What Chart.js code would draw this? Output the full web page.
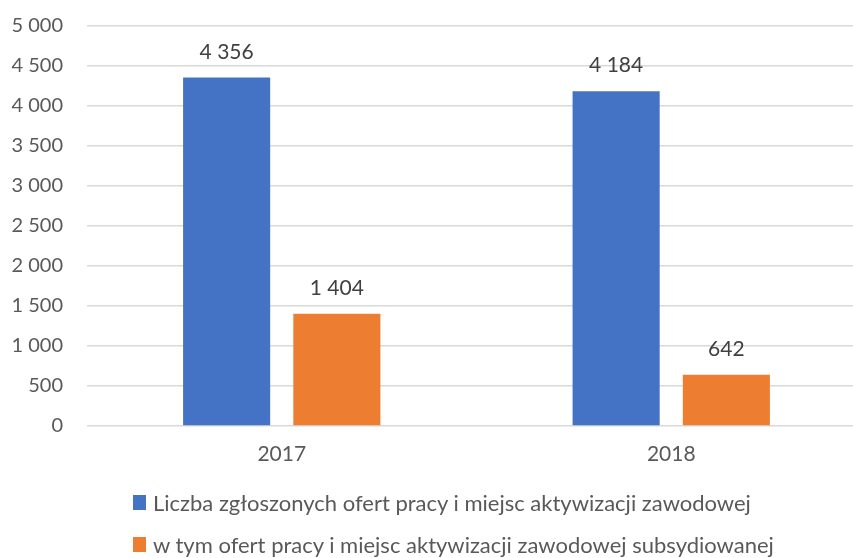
<!DOCTYPE html>
<html>
<head>
<meta charset="utf-8">
<script src="https://cdn.jsdelivr.net/npm/chart.js@4/dist/chart.umd.min.js"></script>
<style>
  html, body { margin: 0; padding: 0; background: #fff; overflow: hidden; }
  #wrap { position: relative; width: 866px; height: 558px; overflow: hidden; }
  #wykres { position: absolute; left: 0; top: -10px; }
  #legend { position: absolute; left: 133px; top: 490px; font-family: Lato, sans-serif; font-size: 22px; color: #595959; }
  #legend div { display: flex; align-items: center; height: 24px; margin-bottom: 18px; white-space: nowrap; }
  #legend span.box { display: inline-block; width: 13px; height: 15px; margin-right: 7px; }
</style>
</head>
<body>
<div id="wrap">
  <canvas id="wykres" width="866" height="568"></canvas>
  <div id="legend"></div>
</div>
<script>
// dane z wykresu
const lata = ['2017', '2018'];
const ofertyOgolem = [4356, 4184];
const ofertySubsydiowane = [1404, 642];
const nazwySerii = [
  'Liczba zgłoszonych ofert pracy i miejsc aktywizacji zawodowej',
  'w tym ofert pracy i miejsc aktywizacji zawodowej subsydiowanej'
];
const kolory = ['#4472C4', '#ED7D31'];

function formatuj(v) {
  return String(v).replace(/\B(?=(\d{3})+(?!\d))/g, ' ');
}

const etykietyPlugin = {
  id: 'etykiety',
  afterDatasetsDraw(chart) {
    const ctx = chart.ctx;
    ctx.save();
    ctx.font = '21px Lato, sans-serif';
    ctx.fillStyle = '#404040';
    ctx.textAlign = 'center';
    ctx.textBaseline = 'alphabetic';
    chart.data.datasets.forEach((ds, i) => {
      chart.getDatasetMeta(i).data.forEach((bar, j) => {
        ctx.fillText(formatuj(ds.data[j]), bar.x, bar.y - 19);
      });
    });
    ctx.restore();
  }
};

var wykres = new Chart(document.getElementById('wykres').getContext('2d'), {
  type: 'bar',
  data: {
    labels: lata,
    datasets: [{
      label: nazwySerii[0],
      data: ofertyOgolem,
      backgroundColor: kolory[0]
    }, {
      label: nazwySerii[1],
      data: ofertySubsydiowane,
      backgroundColor: kolory[1]
    }]
  },
  options: {
    responsive: false,
    animation: false,
    categoryPercentage: 0.566,
    barPercentage: 0.79,
    layout: { padding: { top: 14, bottom: 83, right: 0, left: 0 } },
    plugins: {
      legend: { display: false },
      tooltip: { enabled: false }
    },
    scales: {
      x: {
        grid: { display: false },
        border: { display: false },
        ticks: { color: '#595959', font: { family: 'Lato', size: 21 }, padding: 8 },
        afterFit(scale) { scale.height = 49; }
      },
      y: {
        min: 0,
        max: 5000,
        ticks: {
          stepSize: 500,
          color: '#595959',
          font: { family: 'Lato', size: 20 },
          padding: 24,
          callback: v => formatuj(v)
        },
        grid: { color: '#d9d9d9', lineWidth: 1.5, drawTicks: false },
        border: { display: false },
        afterFit(scale) { scale.width = 87; }
      }
    }
  },
  plugins: [etykietyPlugin]
});

// legenda jak w Excelu
const legenda = document.getElementById('legend');
wykres.data.datasets.forEach(ds => {
  const wiersz = document.createElement('div');
  wiersz.innerHTML = '<span class="box" style="background:' + ds.backgroundColor + '"></span>' + ds.label;
  legenda.appendChild(wiersz);
});
</script>
</body>
</html>
